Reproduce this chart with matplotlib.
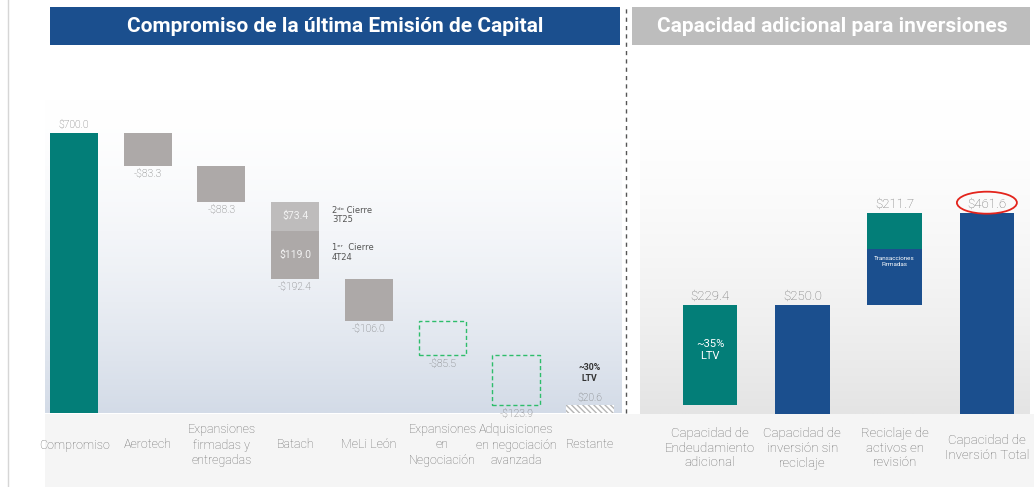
import numpy as np
import matplotlib
matplotlib.use("Agg")
import matplotlib.pyplot as plt
from matplotlib.patches import Rectangle, Ellipse
from matplotlib.lines import Line2D
from matplotlib.colors import to_rgb

plt.rcParams['font.family'] = ['Roboto', 'DejaVu Sans']

# ---------------- data ----------------
left_categories = ["Compromiso", "Aerotech", "Expansiones\nfirmadas y\nentregadas", "Batach",
                   "MeLi León", "Expansiones\nen\nNegociación", "Adquisiciones\nen negociación\navanzada",
                   "Restante"]
left_values = [700.0, -83.3, -88.3, -192.4, -106.0, -85.5, -123.9, 20.6]
left_labels = ["$700.0", "-$83.3", "-$88.3", "-$192.4", "-$106.0", "-$85.5", "-$123.9", "$20.6"]
batach_parts = [73.4, 119.0]          # 2do cierre 3T25 (top), 1er cierre 4T24 (bottom)
batach_part_labels = ["$73.4", "$119.0"]
batach_notes = ["2ᵈᵒ Cierre\n3T25", "1ᵉʳ  Cierre\n4T24"]

right_categories = ["Capacidad de\nEndeudamiento\nadicional", "Capacidad de\ninversión sin\nreciclaje",
                    "Reciclaje de\nactivos en\nrevisión", "Capacidad de\nInversión Total"]
right_values = [229.4, 250.0, 211.7, 461.6]
right_labels = ["$229.4", "$250.0", "$211.7", "$461.6"]
reciclaje_firmadas = 128.1   # lower (blue) part of reciclaje bar

title_left = "Compromiso de la última Emisión de Capital"
title_right = "Capacidad adicional para inversiones"

# ---------------- style ----------------
TEAL = "#037E78"
BLUE = "#1B4F8E"
GRAY = "#ADA9A8"
LGRAY = "#BEBCBC"
GREEN = "#2EBD6B"
TXT = "#6E6E6E"
CAT = "#6A6A6A"
LW = 'light'

W, H = 1034, 487
fig = plt.figure(figsize=(W / 100, H / 100), dpi=100)
fig.patch.set_facecolor("white")

def fx(px): return px / W
def fy(py): return 1 - py / H

# label band background
fig.add_artist(Rectangle((fx(45), 0), fx(1034) - fx(45), fy(414), transform=fig.transFigure,
                         facecolor="#F5F5F5", edgecolor="none", zorder=0))
# left page border line
fig.add_artist(Line2D([fx(8), fx(8)], [0, fy(0)], transform=fig.transFigure, color="#D6D6D6", lw=1))

def gradient(ax, bottom_color):
    c1 = np.array(to_rgb("white"))
    c2 = np.array(to_rgb(bottom_color))
    t = np.linspace(1, 0, 256) ** 1.6     # row 0 (bottom) = darkest
    img = c1[None, :] * (1 - t[:, None]) + c2[None, :] * t[:, None]
    img = np.repeat(img[:, None, :], 2, axis=1)
    ax.imshow(img, extent=[0, 1, 0, 1], transform=ax.transAxes, aspect='auto', zorder=0,
              origin='lower')

# ---------------- left axes ----------------
axL = fig.add_axes([fx(45), fy(413), fx(622) - fx(45), fy(100) - fy(413)])
axL.set_xlim(-0.394, 7.436)
axL.set_ylim(0, 782.5)
gradient(axL, "#D3DBE7")
for s in axL.spines.values():
    s.set_visible(False)
axL.set_xticks([]); axL.set_yticks([])

n = len(left_values)
xs = np.arange(n)
bw = 0.65
running = 0.0
for i, v in enumerate(left_values):
    if i == 0:
        bottom, height = 0, v
        running = v
    elif i == n - 1:
        bottom, height = 0, v
    else:
        bottom, height = running + v, -v
        running += v
    top = bottom + height
    if i == 0:
        axL.bar(xs[i], height, bw, bottom=bottom, color=TEAL, zorder=2)
        axL.annotate(left_labels[i], (xs[i], top), xytext=(0, 3), textcoords='offset pixels',
                     ha='center', va='bottom', color=TXT, fontsize=7.5, fontweight=LW)
    elif left_categories[i] == "Batach":
        axL.bar(xs[i], batach_parts[1], bw, bottom=bottom, color=GRAY, zorder=2)
        axL.bar(xs[i], batach_parts[0], bw, bottom=bottom + batach_parts[1], color=LGRAY, zorder=2)
        axL.text(xs[i], bottom + batach_parts[1] + batach_parts[0] / 2, batach_part_labels[0],
                 ha='center', va='center', color="#F2F2F2", fontsize=7.5, zorder=3)
        axL.text(xs[i], bottom + batach_parts[1] / 2, batach_part_labels[1],
                 ha='center', va='center', color="#F2F2F2", fontsize=7.5, zorder=3)
        axL.text(xs[i] + 0.5, bottom + batach_parts[1] + batach_parts[0] / 2 + 3, batach_notes[0],
                 ha='left', va='center', color="#555555", fontsize=6, linespacing=1.1,
                 family=['DejaVu Sans'])
        axL.text(xs[i] + 0.5, bottom + batach_parts[1] - 54, batach_notes[1],
                 ha='left', va='center', color="#555555", fontsize=6, linespacing=1.1,
                 family=['DejaVu Sans'])
        axL.annotate(left_labels[i], (xs[i], bottom), xytext=(0, -3), textcoords='offset pixels',
                     ha='center', va='top', color=TXT, fontsize=7.5, fontweight=LW)
    elif i in (5, 6):
        axL.bar(xs[i], height, bw, bottom=bottom, facecolor='none', edgecolor=GREEN,
                linestyle=(0, (3, 2)), lw=1, zorder=2)
        axL.annotate(left_labels[i], (xs[i], bottom), xytext=(0, -4), textcoords='offset pixels',
                     ha='center', va='top', color=TXT, fontsize=7.5, fontweight=LW)
    elif i == n - 1:
        axL.bar(xs[i], height, bw, bottom=bottom, facecolor='white', edgecolor="#B5B5B5",
                hatch='\\\\\\\\\\\\', lw=0, zorder=2)
        axL.annotate(left_labels[i], (xs[i], top), xytext=(0, 2), textcoords='offset pixels',
                     ha='center', va='bottom', color=TXT, fontsize=7.5, fontweight=LW)
        axL.annotate("~30%\nLTV", (xs[i], top), xytext=(0, 32), textcoords='offset pixels',
                     ha='center', va='center', color="#333333", fontsize=6.3, fontweight='bold',
                     linespacing=1.3)
    else:
        axL.bar(xs[i], height, bw, bottom=bottom, color=GRAY, zorder=2)
        axL.annotate(left_labels[i], (xs[i], bottom), xytext=(0, -3), textcoords='offset pixels',
                     ha='center', va='top', color=TXT, fontsize=7.5, fontweight=LW)

for i, lab in enumerate(left_categories):
    axL.annotate(lab, (xs[i], 0), xycoords='data', xytext=(0, -32), textcoords='offset pixels',
                 ha='center', va='center', color=CAT, fontsize=9, linespacing=1.25,
                 fontweight=LW, annotation_clip=False)

# ---------------- right axes ----------------
axR = fig.add_axes([fx(640), fy(414), fx(1030) - fx(640), fy(100) - fy(414)])
axR.set_xlim(-0.758, 3.467)
axR.set_ylim(0, 720)
gradient(axR, "#E4E4E4")
for s in axR.spines.values():
    s.set_visible(False)
axR.set_xticks([]); axR.set_yticks([])

xr = np.arange(len(right_values))
bwr = 0.59
restante = left_values[-1]
# endeudamiento: floating from restante
b0 = restante
axR.bar(xr[0], right_values[0], bwr, bottom=b0, color=TEAL, zorder=2)
axR.text(xr[0], b0 + right_values[0] * 0.55, "~35%\nLTV", ha='center', va='center', color='white',
         fontsize=8, linespacing=1.2, zorder=3)
axR.bar(xr[1], right_values[1], bwr, bottom=0, color=BLUE, zorder=2)
b2 = right_values[1]
axR.bar(xr[2], reciclaje_firmadas, bwr, bottom=b2, color=BLUE, zorder=2)
axR.bar(xr[2], right_values[2] - reciclaje_firmadas, bwr, bottom=b2 + reciclaje_firmadas, color=TEAL, zorder=2)
axR.text(xr[2], b2 + reciclaje_firmadas * 0.78, "Transacciones\nFirmadas", ha='center', va='center',
         color='white', fontsize=4.5, linespacing=1.2, zorder=3)
axR.bar(xr[3], right_values[3], bwr, bottom=0, color=BLUE, zorder=2)

tops = [b0 + right_values[0], right_values[1], b2 + right_values[2], right_values[3]]
for i, (t, lab) in enumerate(zip(tops, right_labels)):
    axR.annotate(lab, (xr[i], t), xytext=(0, 2), textcoords='offset pixels', ha='center',
                 va='bottom', color=TXT, fontsize=9.5, fontweight=LW)

ell_x = fig.transFigure.inverted().transform(axR.transData.transform((xr[3], tops[3])))
fig.add_artist(Ellipse((ell_x[0], ell_x[1] + 10 / H), 60 / W, 22 / H, transform=fig.transFigure,
                       facecolor='none', edgecolor="#E3241C", lw=1.3, zorder=5))

for i, lab in enumerate(right_categories):
    axR.annotate(lab, (xr[i], 0), xycoords='data', xytext=(0, -34), textcoords='offset pixels',
                 ha='center', va='center', color=CAT, fontsize=9.5, linespacing=1.2,
                 fontweight=LW, annotation_clip=False)

# ---------------- titles ----------------
fig.add_artist(Rectangle((fx(50), fy(45)), fx(620) - fx(50), fy(7) - fy(45), transform=fig.transFigure,
                         facecolor=BLUE, edgecolor='none'))
fig.text(fx(335), fy(26), title_left, ha='center', va='center', color='white', fontsize=15,
         fontweight='bold', family=['Liberation Sans Narrow', 'Roboto', 'DejaVu Sans'])
fig.add_artist(Rectangle((fx(632), fy(45)), fx(1030) - fx(632), fy(7) - fy(45), transform=fig.transFigure,
                         facecolor="#BDBDBD", edgecolor='none'))
fig.text(fx(832), fy(26), title_right, ha='center', va='center', color='white', fontsize=15,
         fontweight='bold', family=['Liberation Sans Narrow', 'Roboto', 'DejaVu Sans'])

# separator
fig.add_artist(Line2D([fx(626), fx(626)], [fy(413), fy(7)], transform=fig.transFigure, color="#555555",
                      lw=1, linestyle=(0, (3, 3))))

fig.savefig("out.png", dpi=100, facecolor=fig.get_facecolor())
